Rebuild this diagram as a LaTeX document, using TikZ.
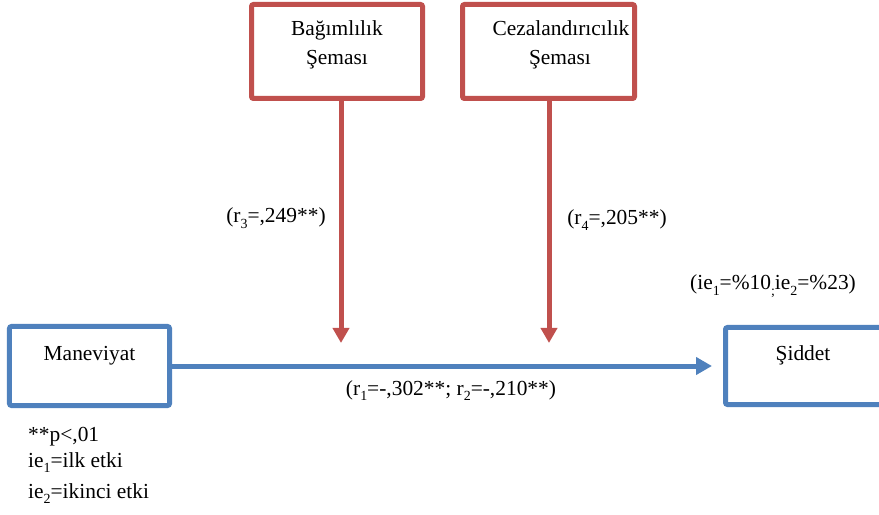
\documentclass[tikz,border=0pt]{standalone}
\usepackage{fontspec}
\setmainfont{Liberation Serif}
\usetikzlibrary{arrows.meta}
\definecolor{boxred}{HTML}{C0504D}
\definecolor{boxblue}{HTML}{4F81BD}
\newcommand{\isub}[1]{\raisebox{-0.6ex}{\fontsize{14}{14}\selectfont #1}}
\begin{document}
\begin{tikzpicture}[x=1bp,y=-1bp,
  every node/.style={font=\fontsize{21.5}{25}\selectfont, inner sep=0pt},
  redbox/.style={draw=boxred, line width=5bp, rounded corners=2bp, fill=white, minimum width=171bp, minimum height=94bp},
  bluebox/.style={draw=boxblue, line width=5bp, rounded corners=2bp, fill=white, minimum width=160bp, minimum height=79bp},
  redarrow/.style={draw=boxred, line width=5bp, -{Triangle[width=16bp,length=15bp]}},
  bluearrow/.style={draw=boxblue, line width=5bp, -{Triangle[width=17bp,length=16bp]}},
  lbl/.style={anchor=base}
]
\useasboundingbox (0,0) rectangle (879,515);

\node[redbox] (b1) at (337,51.5) {};
\node[redbox, minimum width=172bp] (b2) at (548.5,51.5) {};
\node[bluebox] (man) at (89.5,366) {};
\node[bluebox, minimum width=171bp, minimum height=77bp] (sid) at (811,366) {};

\node[lbl] (b1a) at (337,36) {Bağımlılık};
\node[lbl] (b1b) at (337,65) {Şeması};
\node[lbl] (b2a) at (561,36) {Cezalandırıcılık};
\node[lbl] (b2b) at (560,65) {Şeması};
\node[lbl] (mant) at (89.5,360) {Maneviyat};
\node[lbl] (sidt) at (803,360) {Şiddet};

\coordinate (t1) at (341,343);
\coordinate (t2) at (549,343);
\draw[redarrow] (b1.south -| t1) -- (t1);
\draw[redarrow] (b2.south -| t2) -- (t2);
\draw[bluearrow, shorten >=11bp] (man.east) -- (sid.west);

\node[lbl] (r3) at (276,223) {(r\isub{3}=,249**)};
\node[lbl] (r4) at (617,225) {(r\isub{4}=,205**)};
\node[lbl] (r12) at (451,395) {(r\isub{1}=-,302**; r\isub{2}=-,210**)};
\node[lbl] (ie) at (773,290) {(ie\isub{1}=\%10\isub{;}ie\isub{2}=\%23)};

\node[anchor=base west] (n1) at (28,441) {**p<,01};
\node[anchor=base west] (n2) at (28,467) {ie\isub{1}=ilk etki};
\node[anchor=base west] (n3) at (28,498) {ie\isub{2}=ikinci etki};
\end{tikzpicture}
\end{document}
